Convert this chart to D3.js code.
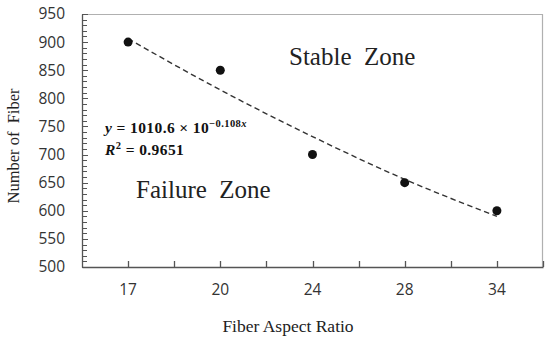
<!DOCTYPE html>
<html>
<head>
<meta charset="utf-8">
<script src="https://cdn.jsdelivr.net/npm/d3@7"></script>
<style>
  body { margin: 0; background: #fff; }
  svg { display: block; }
</style>
</head>
<body>
<div id="chart"></div>
<script>
// Data
const aspectRatios = ["17", "20", "24", "28", "34"];
const fiberCounts = [900, 850, 700, 650, 600];
const trendValues = [906, 815, 732, 656, 590];
const yTicks = [500, 550, 600, 650, 700, 750, 800, 850, 900, 950];

const width = 550, height = 342;
const margin = {top: 14, right: 7, bottom: 75, left: 82};
const w = width - margin.left - margin.right;
const h = height - margin.top - margin.bottom;

const svg = d3.select("#chart").append("svg")
  .attr("width", width)
  .attr("height", height);

const g = svg.append("g")
  .attr("transform", `translate(${margin.left},${margin.top})`);

const x = d3.scaleBand().domain(aspectRatios).range([0, w]);
const y = d3.scaleLinear().domain([500, 950]).range([h, 0]);
const cx = d => x(d) + x.bandwidth() / 2;

// frame (top + right, light grey)
g.append("path")
  .attr("d", `M0,0.5H${w - 0.5}V${h}`)
  .attr("fill", "none")
  .attr("stroke", "#b0b0b0")
  .attr("stroke-width", 1.2);

// minor y ticks
const minor = d3.range(500, 951, 10);
g.append("g").selectAll("line")
  .data(minor)
  .join("line")
  .attr("x1", 0).attr("x2", d => d % 50 === 0 ? 6 : 5)
  .attr("y1", d => Math.round(y(d)) + 0.5).attr("y2", d => Math.round(y(d)) + 0.5)
  .attr("stroke", "#555");

// y axis
const yAxis = g.append("g")
  .call(d3.axisLeft(y).tickValues(yTicks).tickSize(0).tickPadding(17));
yAxis.select(".domain").attr("stroke", "#555").attr("stroke-width", 1.3);
yAxis.selectAll("text")
  .attr("font-family", "'Open Sans', 'Noto Sans', sans-serif")
  .attr("font-size", 15.5)
  .attr("fill", "#333");

// x axis
const xAxis = g.append("g")
  .attr("transform", `translate(0,${h})`)
  .call(d3.axisBottom(x).tickSize(0).tickPadding(17));
xAxis.select(".domain").attr("stroke", "#555").attr("stroke-width", 1.3);
xAxis.selectAll("text")
  .attr("font-family", "'Open Sans', 'Noto Sans', sans-serif")
  .attr("font-size", 15.5)
  .attr("fill", "#333");

// x ticks at category centres and band edges, pointing up
const xTickPos = aspectRatios.map(cx).concat(aspectRatios.slice(1).map(d => x(d)), [w]);
g.append("g").selectAll("line")
  .data(xTickPos)
  .join("line")
  .attr("x1", d => Math.round(d) + 0.5).attr("x2", d => Math.round(d) + 0.5)
  .attr("y1", h).attr("y2", h - 6)
  .attr("stroke", "#555")
  .attr("stroke-width", 1.3);

// trend line
const line = d3.line()
  .x((d, i) => cx(aspectRatios[i]))
  .y(d => y(d))
  .curve(d3.curveMonotoneX);
g.append("path")
  .datum(trendValues)
  .attr("d", line)
  .attr("fill", "none")
  .attr("stroke", "#333")
  .attr("stroke-width", 1.4)
  .attr("stroke-dasharray", "5.5,3.5");

// points
g.append("g").selectAll("circle")
  .data(fiberCounts)
  .join("circle")
  .attr("cx", (d, i) => cx(aspectRatios[i]))
  .attr("cy", d => y(d))
  .attr("r", 4.5)
  .attr("fill", "#111");

// zone labels
const serif = "'Liberation Serif', 'DejaVu Serif', serif";
svg.append("text")
  .attr("x", 289).attr("y", 65)
  .attr("font-family", serif).attr("font-size", 25)
  .attr("fill", "#222")
  .attr("xml:space", "preserve")
  .text("Stable  Zone");
svg.append("text")
  .attr("x", 136).attr("y", 198)
  .attr("font-family", serif).attr("font-size", 25)
  .attr("fill", "#222")
  .attr("xml:space", "preserve")
  .text("Failure  Zone");

// equation
const eq = svg.append("text")
  .attr("x", 105).attr("y", 133)
  .attr("font-family", serif).attr("font-size", 15.5)
  .attr("letter-spacing", 0.4)
  .attr("font-weight", "bold").attr("fill", "#111");
eq.append("tspan").attr("font-style", "italic").text("y");
eq.append("tspan").text(" = 1010.6 × 10");
eq.append("tspan").attr("font-size", 10.5).attr("dy", -6).text("−0.108");
eq.append("tspan").attr("font-size", 10.5).attr("font-style", "italic").text("x");

const r2 = svg.append("text")
  .attr("x", 105).attr("y", 155)
  .attr("font-family", serif).attr("font-size", 15.5)
  .attr("letter-spacing", 0.4)
  .attr("font-weight", "bold").attr("fill", "#111");
r2.append("tspan").attr("font-style", "italic").text("R");
r2.append("tspan").attr("font-size", 10.5).attr("dy", -6).text("2");
r2.append("tspan").attr("dy", 6).text(" = 0.9651");

// axis titles
svg.append("text")
  .attr("x", 288).attr("y", 332)
  .attr("text-anchor", "middle")
  .attr("font-family", serif).attr("font-size", 17.5)
  .attr("fill", "#222")
  .text("Fiber Aspect Ratio");
svg.append("text")
  .attr("transform", "translate(19,146) rotate(-90)")
  .attr("text-anchor", "middle")
  .attr("font-family", serif).attr("font-size", 16.5)
  .attr("fill", "#222")
  .attr("xml:space", "preserve")
  .text("Number of  Fiber");
</script>
</body>
</html>
